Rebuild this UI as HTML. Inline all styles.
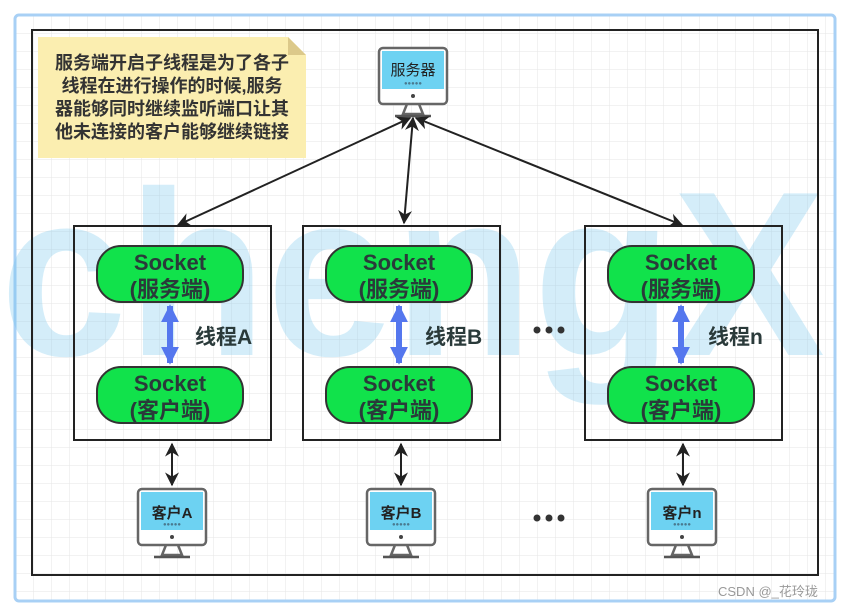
<!DOCTYPE html>
<html><head><meta charset="utf-8"><style>
html,body{margin:0;padding:0;background:#fff;}
svg{display:block;}
text{font-family:"Liberation Sans","Noto Sans CJK SC",sans-serif;}
</style></head><body>
<svg width="848" height="609" viewBox="0 0 848 609" xmlns="http://www.w3.org/2000/svg">
<defs>
<pattern id="g" width="18" height="18" patternUnits="userSpaceOnUse" x="15" y="15">
<path d="M18 0H0V18" fill="none" stroke="#e6e6e6" stroke-width="1"/>
</pattern>
<marker id="ah" viewBox="0 0 10 10" refX="9" refY="5" markerWidth="7" markerHeight="7" orient="auto-start-reverse">
<path d="M0 0L10 5L0 10L3 5z" fill="#222"/>
</marker>
<marker id="bh" viewBox="0 0 10 10" refX="9" refY="5" markerWidth="3" markerHeight="3" orient="auto-start-reverse">
<path d="M0 0L10 5L0 10z" fill="#5577ee"/>
</marker>
<g id="mon">
<rect x="0" y="0" width="68" height="56" rx="4" fill="#fff" stroke="#666" stroke-width="2.5"/>
<rect x="3" y="3" width="62" height="38" fill="#6dd2f2"/>
<circle cx="34" cy="48" r="2" fill="#444"/>
<path d="M28 56L24 66H44L40 56" fill="none" stroke="#666" stroke-width="2.5"/>
<line x1="16" y1="68" x2="52" y2="68" stroke="#555" stroke-width="2.5"/>
<text x="34" y="37" font-size="6" fill="#4a7a90" text-anchor="middle">●●●●●</text>
</g>
</defs>
<rect x="0" y="0" width="848" height="609" fill="#fff"/>
<rect x="15" y="15" width="820" height="586" rx="4" fill="url(#g)" stroke="#a8d0f5" stroke-width="3"/>
<text x="0" y="355" font-size="235" font-weight="bold" fill="#74c6ec" opacity="0.3" textLength="825" lengthAdjust="spacingAndGlyphs">chengX</text>
<rect x="32" y="30" width="786" height="545" fill="none" stroke="#222" stroke-width="2"/>
<path d="M38 37H288L306 55V158H38Z" fill="#fbeeb0"/>
<path d="M288 37V55H306Z" fill="#dcc98a"/>
<g font-size="18" font-weight="bold" fill="#333" text-anchor="middle">
<text x="172" y="69">服务端开启子线程是为了各子</text>
<text x="172" y="92">线程在进行操作的时候,服务</text>
<text x="172" y="115">器能够同时继续监听端口让其</text>
<text x="172" y="138">他未连接的客户能够继续链接</text>
</g>
<use href="#mon" x="379" y="48"/>
<text x="413" y="75" font-size="15" fill="#222" text-anchor="middle">服务器</text>
<g stroke="#222" stroke-width="2" fill="none">
<line x1="410" y1="118" x2="178" y2="225" marker-start="url(#ah)" marker-end="url(#ah)"/>
<line x1="413" y1="118" x2="404" y2="223" marker-start="url(#ah)" marker-end="url(#ah)"/>
<line x1="416" y1="118" x2="682" y2="225" marker-start="url(#ah)" marker-end="url(#ah)"/>
</g>
<g id="th">
<rect x="74" y="226" width="197" height="214" fill="none" stroke="#222" stroke-width="2"/>
<rect x="97" y="246" width="146" height="56" rx="24" fill="#11e24b" stroke="#333" stroke-width="2"/>
<rect x="97" y="367" width="146" height="56" rx="24" fill="#11e24b" stroke="#333" stroke-width="2"/>
<g font-size="22" font-weight="bold" fill="#2a3a3a" text-anchor="middle">
<text x="170" y="270">Socket</text><text x="170" y="297">(服务端)</text>
<text x="170" y="391">Socket</text><text x="170" y="418">(客户端)</text>
</g>
<line x1="170" y1="306" x2="170" y2="363" stroke="#5577ee" stroke-width="6" marker-start="url(#bh)" marker-end="url(#bh)"/>
<line x1="172" y1="444" x2="172" y2="485" stroke="#222" stroke-width="2" marker-start="url(#ah)" marker-end="url(#ah)"/>
</g>
<use href="#th" x="229"/>
<use href="#th" x="511"/>
<g font-size="21" font-weight="bold" fill="#2a3a3a">
<text x="195" y="344">线程A</text><text x="425" y="344">线程B</text><text x="708" y="344">线程n</text>
</g>
<use href="#mon" x="138" y="489"/>
<use href="#mon" x="367" y="489"/>
<use href="#mon" x="648" y="489"/>
<g font-size="15" font-weight="bold" fill="#222" text-anchor="middle">
<text x="172" y="518">客户A</text><text x="401" y="518">客户B</text><text x="682" y="518">客户n</text>
</g>
<g fill="#333">
<circle cx="537" cy="330" r="3.5"/><circle cx="549" cy="330" r="3.5"/><circle cx="561" cy="330" r="3.5"/>
<circle cx="537" cy="518" r="3.5"/><circle cx="549" cy="518" r="3.5"/><circle cx="561" cy="518" r="3.5"/>
</g>
<text x="718" y="596" font-size="13" fill="#999">CSDN @_花玲珑</text>
</svg>
</body></html>
